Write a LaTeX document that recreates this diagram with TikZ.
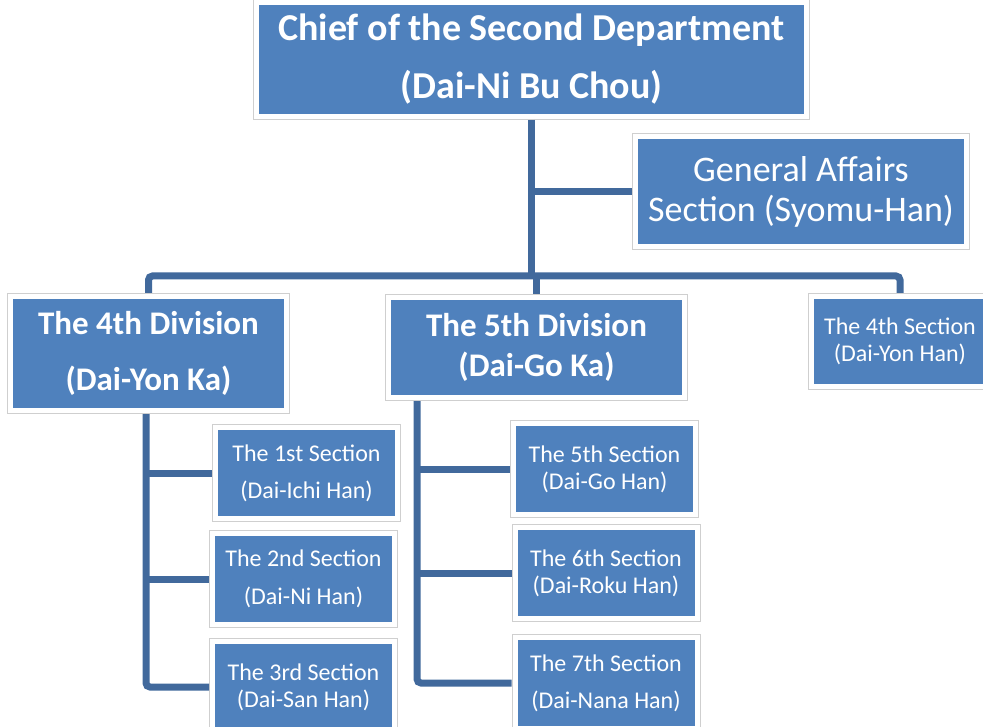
\documentclass[tikz,border=0pt]{standalone}
\usepackage{fontspec}
\setmainfont{Carlito}
\definecolor{boxblue}{HTML}{4F81BD}
\definecolor{connblue}{HTML}{41699C}
\definecolor{framegray}{HTML}{CFCFCF}
\tikzset{
  orgbox/.style={rectangle, fill=boxblue, draw=white, line width=5pt,
    preaction={draw=framegray, line width=7pt},
    outer sep=3.5pt, inner sep=0pt, align=center, text=white},
  conn/.style={draw=connblue, line width=7pt},
}
\newcommand{\fs}[2]{\fontsize{#1}{#2}\selectfont}
\begin{document}
\begin{tikzpicture}[x=1pt,y=-1pt]
\useasboundingbox (0,0) rectangle (983,727);
\clip (0,0) rectangle (983,727);
\fill[white] (0,0) rectangle (983,727);

\coordinate (bar) at (531.5,276);
\coordinate (d4top) at (146,414);
\coordinate (d5top) at (417,401);

\node[orgbox, minimum width=550pt, minimum height=114pt, font=\bfseries\fs{38}{58}] (top) at (531.5,59.5)
  {Chief of the Second Department\\(Dai-Ni Bu Chou)};
\node[orgbox, minimum width=331pt, minimum height=110pt, font=\fs{36}{40}] (ga) at (801,191.5)
  {General Affairs\\Section (Syomu-Han)};
\node[orgbox, minimum width=276pt, minimum height=114pt, font=\bfseries\fs{33}{56}] (div4) at (148.5,353.5)
  {The 4th Division\\(Dai-Yon Ka)};
\node[orgbox, minimum width=296pt, minimum height=100pt, font=\bfseries\fs{33}{40}] (div5) at (536.5,347.5)
  {The 5th Division\\(Dai-Go Ka)};
\node[orgbox, minimum width=177pt, minimum height=90pt, font=\fs{24}{27}] (sec4) at (900,341.5)
  {The 4th Section\\(Dai-Yon Han)};
\node[orgbox, minimum width=182pt, minimum height=91pt, font=\fs{24}{37}] (s1) at (306.5,473)
  {The 1st Section\\(Dai-Ichi Han)};
\node[orgbox, minimum width=182pt, minimum height=91pt, font=\fs{24}{38}] (s2) at (303.5,579)
  {The 2nd Section\\(Dai-Ni Han)};
\node[orgbox, minimum width=182pt, minimum height=91pt, font=\fs{24}{27}] (s3) at (303.5,687)
  {The 3rd Section\\(Dai-San Han)};
\node[orgbox, minimum width=182pt, minimum height=91pt, font=\fs{24}{27}] (s5) at (604.5,469)
  {The 5th Section\\(Dai-Go Han)};
\node[orgbox, minimum width=182pt, minimum height=91pt, font=\fs{24}{27}] (s6) at (606,573)
  {The 6th Section\\(Dai-Roku Han)};
\node[orgbox, minimum width=182pt, minimum height=91pt, font=\fs{24}{37}] (s7) at (606,683)
  {The 7th Section\\(Dai-Nana Han)};

\draw[conn] (top.south) -- (bar);
\draw[conn] (top.south |- ga.west) -- (ga.west);
\draw[conn, rounded corners=4pt] (div4.north) |- (bar) -| (sec4.north);
\draw[conn] (div5.north) -- (div5.north |- bar);

\draw[conn, rounded corners=4pt] (d4top) |- (s3.west);
\draw[conn] (d4top |- s1.west) -- (s1.west);
\draw[conn] (d4top |- s2.west) -- (s2.west);

\draw[conn, rounded corners=4pt] (d5top) |- (s7.west);
\draw[conn] (d5top |- s5.west) -- (s5.west);
\draw[conn] (d5top |- s6.west) -- (s6.west);
\end{tikzpicture}
\end{document}
